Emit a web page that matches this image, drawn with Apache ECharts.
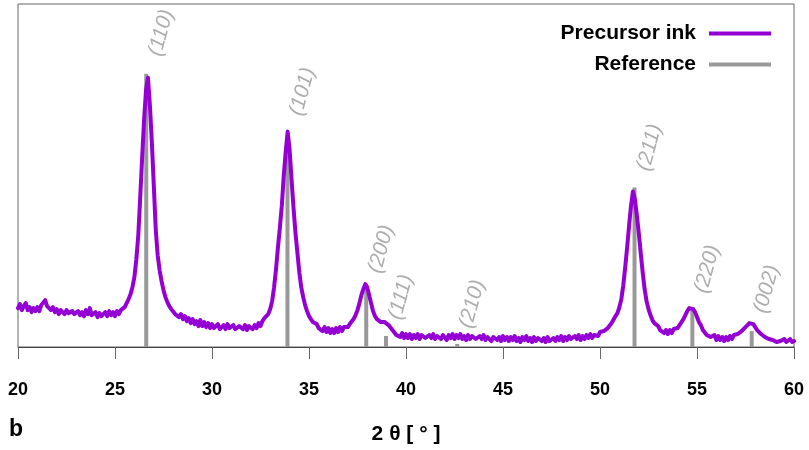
<!DOCTYPE html>
<html>
<head>
<meta charset="utf-8">
<script src="https://cdn.jsdelivr.net/npm/echarts@6/dist/echarts.min.js"></script>
<style>
html,body{margin:0;padding:0;background:#fff;}
#chart{width:809px;height:450px;}
</style>
</head>
<body>
<div id="chart"></div>
<script>
// 2θ scan: start angle and step (degrees)
const scanStart = 20;
const scanStep = 0.1;
// Precursor ink intensity (a.u.), one value per 0.1° from 20.0 to 60.0
const inkIntensity = [
  39,43,37,41,44,37,40,35,39,36,
  40,36,42,44,47,41,42,37,40,35,
  38,33,37,35,33,37,34,32,36,33,
  31,36,32,35,31,37,33,39,32,31,
  35,30,34,31,29,35,31,36,32,35,
  31,36,33,37,38,40,44,48,53,60,
  70,88,112,150,190,228,258,270,242,205,
  162,118,92,77,66,57,50,45,41,38,
  37,33,34,30,33,28,31,26,29,24,
  28,23,26,21,27,21,25,20,24,19,
  23,19,20,23,18,17,22,18,23,19,
  17,22,18,16,21,23,18,22,17,21,
  23,18,22,19,24,21,26,29,30,33,
  38,46,60,78,100,120,142,172,196,216,
  198,168,140,115,95,75,60,50,42,36,
  31,28,25,23,23,19,20,16,20,15,
  19,14,18,14,19,15,20,16,20,21,
  20,23,25,28,32,37,44,52,58,63,
  60,52,44,36,31,28,26,25,26,25,
  24,22,20,17,16,12,13,10,14,9,
  13,9,13,8,12,9,13,8,12,14,
  9,8,12,9,13,8,11,13,8,12,
  10,7,12,9,13,8,12,9,13,8,
  11,7,12,8,11,13,8,7,11,8,
  12,7,10,9,6,10,12,7,10,6,
  11,7,10,6,10,7,11,6,9,5,
  10,7,11,6,9,5,10,6,9,11,
  6,9,5,10,6,4,9,6,10,7,
  11,6,10,7,11,8,6,11,8,12,
  7,11,8,12,9,13,9,12,14,11,
  15,13,16,16,19,19,24,26,31,34,
  40,48,62,80,100,122,142,156,148,132,
  114,94,75,58,46,38,32,27,24,22,
  21,17,18,14,17,13,17,14,18,17,
  19,22,25,28,32,36,39,40,38,35,
  30,25,22,17,16,12,13,10,9,12,
  7,11,7,10,6,10,7,11,8,12,
  12,13,14,16,18,20,22,24,25,23,
  21,17,17,13,13,10,11,8,8,7,
  7,5,7,6,4,8,5,4,8,5,
  6
];
// Reference pattern
const refAngles = [26.61, 33.89, 37.95, 38.97, 42.64, 51.78, 54.76, 57.82];
const refIntensity = [274, 205, 58, 11, 3, 160, 40, 16];
const hklLabels = ['(110)', '(101)', '(200)', '(111)', '(210)', '(211)', '(220)', '(002)'];
const hklLabelHeight = [315, 256, 98, 50, 43, 200, 78, 58];
const xTicks = [20, 25, 30, 35, 40, 45, 50, 55, 60];

const FONT = "'Liberation Sans', Arial, Helvetica, sans-serif";
const inkData = inkIntensity.map((v, i) => [+(scanStart + i * scanStep).toFixed(2), v]);
const refData = refAngles.map((a, i) => [a, refIntensity[i]]);
const labelData = refAngles.map((a, i) => [a, hklLabelHeight[i], hklLabels[i]]);

const chart = echarts.init(document.getElementById('chart'), null, {renderer: 'canvas'});
chart.setOption({
  animation: false,
  backgroundColor: '#fff',
  grid: {left: 18, right: 15, top: 4, bottom: 102, show: true, borderColor: '#666', borderWidth: 1},
  legend: {
    data: ['Precursor ink', 'Reference'],
    orient: 'vertical',
    align: 'right',
    right: 33,
    top: 18,
    icon: 'rect',
    itemWidth: 62,
    itemHeight: 4,
    itemGap: 10,
    selectedMode: false,
    textStyle: {fontFamily: FONT, fontWeight: 'bold', fontSize: 21, color: '#000', padding: [0, 8, 0, 0]}
  },
  xAxis: {
    type: 'value',
    min: xTicks[0],
    max: xTicks[xTicks.length - 1],
    interval: 5,
    axisLine: {show: true, lineStyle: {color: '#444', width: 1}},
    axisTick: {show: true, length: 12, lineStyle: {color: '#666'}},
    axisLabel: {fontFamily: FONT, fontWeight: 'bold', fontSize: 18, color: '#000', margin: 34},
    splitLine: {show: false},
    name: '2 θ [ ° ]',
    nameLocation: 'middle',
    nameGap: 77,
    nameTextStyle: {fontFamily: FONT, fontWeight: 'bold', fontSize: 21, color: '#000'}
  },
  yAxis: {
    type: 'value',
    min: 0,
    max: 344,
    axisLine: {show: false},
    axisTick: {show: false},
    axisLabel: {show: false},
    splitLine: {show: false}
  },
  graphic: [{
    type: 'text', left: 9, top: 418,
    style: {text: 'b', font: 'bold 23px ' + FONT, fill: '#000'}
  }],
  series: [
    {
      name: 'Reference',
      type: 'bar',
      data: refData,
      barWidth: 4,
      itemStyle: {color: '#999999'},
      z: 1
    },
    {
      name: 'Precursor ink',
      type: 'line',
      data: inkData,
      showSymbol: false,
      symbol: 'none',
      smooth: false,
      lineStyle: {color: '#9400D3', width: 4, join: 'round', cap: 'round'},
      itemStyle: {color: '#9400D3'},
      z: 3
    },
    {
      name: 'hkl',
      type: 'scatter',
      data: labelData,
      symbolSize: 0,
      itemStyle: {color: 'transparent'},
      label: {
        show: true,
        position: 'inside',
        offset: [4, 14.5],
        rotate: 75,
        formatter: p => p.data[2],
        fontFamily: FONT,
        fontStyle: 'italic',
        fontSize: 21,
        color: '#999999'
      },
      z: 4
    }
  ]
});
</script>
</body>
</html>
